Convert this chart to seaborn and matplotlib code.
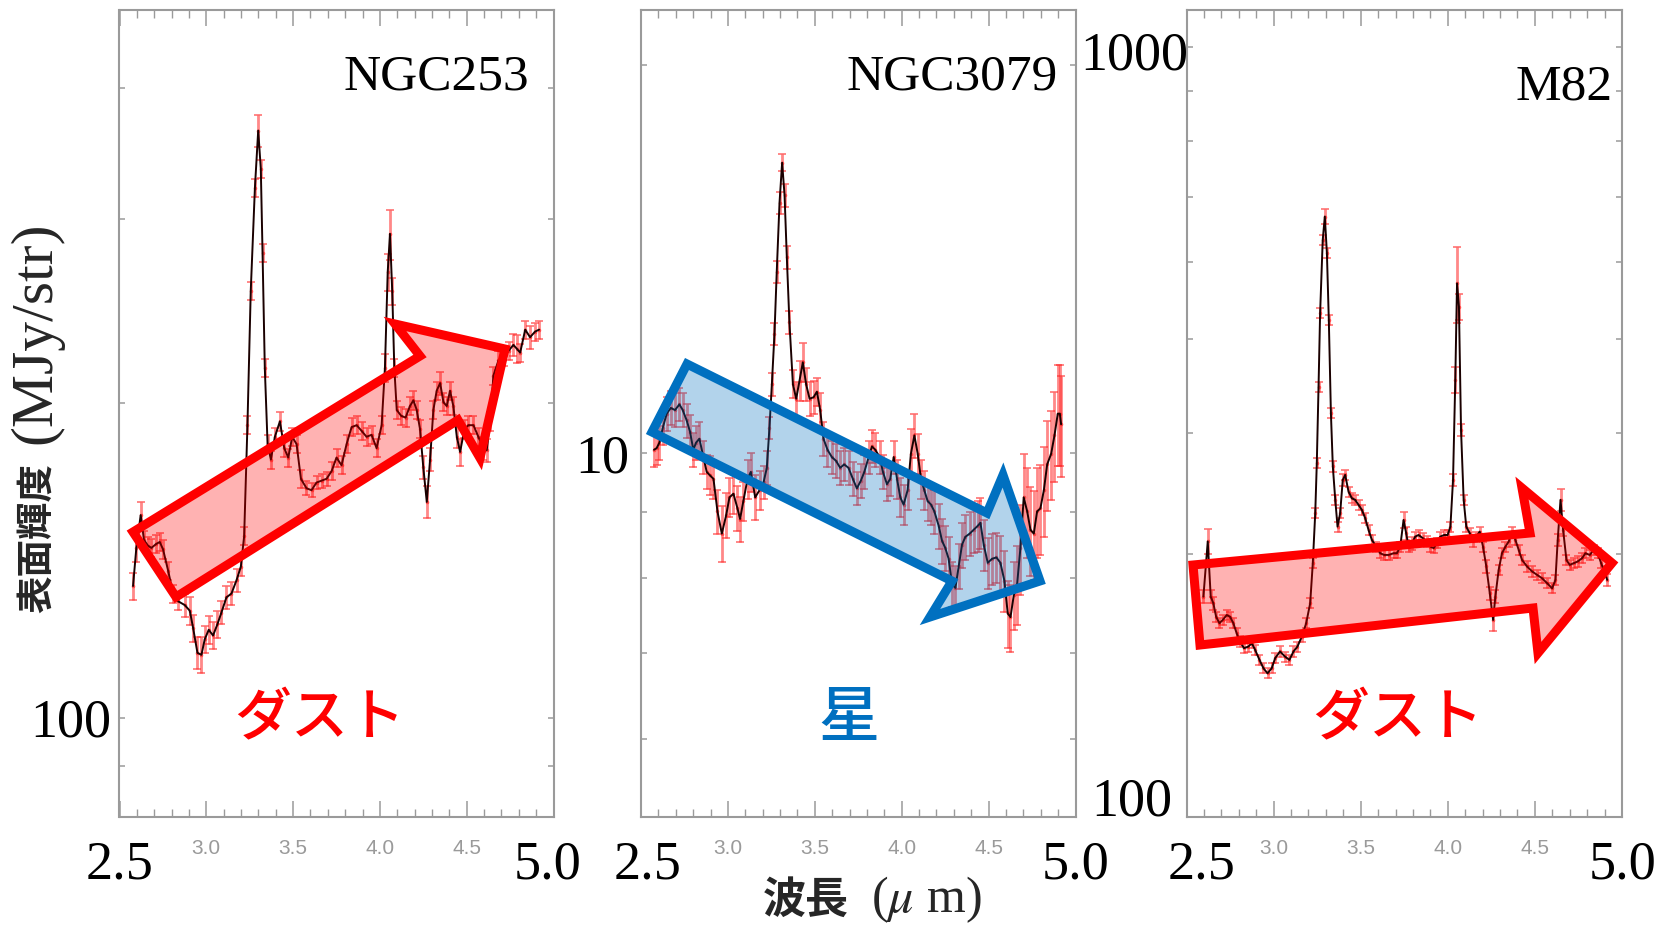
import matplotlib
matplotlib.use("Agg")
import matplotlib.pyplot as plt
import numpy as np
import seaborn as sns
from matplotlib.patches import Polygon
from matplotlib.ticker import FixedLocator, MultipleLocator, NullFormatter, NullLocator

# ---------------------------------------------------------------- data
# NGC253 surface brightness spectrum (MJy/str) and relative errors (%)
NGC253_WL = [2.578, 2.597, 2.622, 2.641, 2.664, 2.684, 2.712, 2.732, 2.751, 2.780,
             2.809, 2.837, 2.876, 2.905, 2.924, 2.949, 2.972, 2.991, 3.014, 3.039,
             3.064, 3.087, 3.116, 3.145, 3.174, 3.199, 3.218, 3.237, 3.256, 3.280,
             3.299, 3.314, 3.324, 3.337, 3.353, 3.372, 3.395, 3.424, 3.449, 3.472,
             3.495, 3.520, 3.545, 3.577, 3.606, 3.635, 3.664, 3.693, 3.722, 3.750,
             3.779, 3.808, 3.837, 3.866, 3.895, 3.923, 3.952, 3.981, 4.010, 4.029,
             4.045, 4.058, 4.071, 4.083, 4.097, 4.122, 4.148, 4.173, 4.193, 4.212,
             4.231, 4.250, 4.270, 4.289, 4.308, 4.327, 4.347, 4.366, 4.385, 4.404,
             4.423, 4.443, 4.462, 4.487, 4.510, 4.539, 4.567, 4.596, 4.615, 4.635,
             4.654, 4.683, 4.712, 4.741, 4.769, 4.789, 4.808, 4.837, 4.865, 4.894,
             4.917]
NGC253_FLUX = [133.7, 145.4, 156.3, 148.0, 146.1, 145.4, 146.7, 147.3, 144.9, 138.3,
               131.5, 129.3, 128.2, 126.6, 121.9, 115.4, 114.9, 118.9, 121.4, 119.9,
               122.9, 126.1, 130.4, 131.5, 135.4, 139.5, 149.2, 190.5, 255.9, 321.2,
               364.4, 335.0, 278.3, 216.1, 182.7, 176.6, 185.7, 192.1, 181.1, 177.4,
               185.7, 182.7, 169.3, 165.8, 165.1, 167.9, 168.6, 169.3, 172.2, 177.4,
               174.4, 182.7, 189.7, 190.5, 188.1, 185.7, 186.5, 181.1, 190.5, 216.1,
               266.9, 290.3, 255.9, 216.1, 197.0, 194.5, 193.7, 198.7, 201.2, 197.0,
               188.9, 173.6, 160.9, 176.6, 197.0, 205.5, 209.0, 200.4, 198.7, 205.5,
               198.7, 185.7, 179.6, 188.9, 190.5, 190.5, 185.7, 181.1, 180.3, 192.1,
               212.5, 219.7, 221.6, 224.4, 227.3, 225.4, 223.5, 235.1, 231.2, 234.1,
               235.1]
NGC253_ERR_PCT = [3, 3, 3, 2, 2, 2, 2, 2, 2, 2,
                  2, 2, 2.5, 3, 3, 3.5, 4, 3, 3, 3,
                  3, 2.5, 2.5, 2.5, 2.5, 2, 2, 2, 2, 2,
                  3.5, 2, 2, 2, 2, 2, 2, 2, 2, 2,
                  2, 2, 2, 1.5, 1.5, 1.5, 1.5, 1.5, 2, 2,
                  2, 2, 2, 2, 2, 2, 2, 2, 2, 3,
                  4, 5.5, 3, 2, 2, 2, 2, 2, 2, 2,
                  2, 2.5, 3.5, 2.5, 2, 2, 2.5, 2, 2, 2,
                  2, 2.5, 3, 2, 2, 2, 2, 2.5, 2.5, 2,
                  2, 2, 2, 2, 2.5, 3, 2, 2, 2.5, 2,
                  2]

# NGC3079
NGC3079_WL = [2.575, 2.590, 2.606, 2.625, 2.648, 2.671, 2.696, 2.721, 2.740, 2.763,
              2.782, 2.801, 2.817, 2.836, 2.859, 2.878, 2.897, 2.917, 2.940, 2.965,
              2.990, 3.009, 3.032, 3.055, 3.070, 3.089, 3.113, 3.132, 3.157, 3.182,
              3.205, 3.224, 3.239, 3.253, 3.268, 3.281, 3.297, 3.312, 3.326, 3.339,
              3.354, 3.374, 3.393, 3.412, 3.431, 3.450, 3.470, 3.493, 3.512, 3.531,
              3.550, 3.573, 3.598, 3.623, 3.646, 3.669, 3.694, 3.719, 3.742, 3.765,
              3.785, 3.810, 3.829, 3.848, 3.873, 3.892, 3.915, 3.934, 3.954, 3.973,
              3.992, 4.011, 4.034, 4.053, 4.073, 4.092, 4.111, 4.130, 4.149, 4.169,
              4.188, 4.213, 4.232, 4.251, 4.270, 4.290, 4.309, 4.328, 4.347, 4.366,
              4.391, 4.414, 4.437, 4.453, 4.472, 4.495, 4.520, 4.545, 4.568, 4.591,
              4.610, 4.626, 4.645, 4.664, 4.683, 4.702, 4.722, 4.741, 4.760, 4.779,
              4.798, 4.818, 4.837, 4.860, 4.879, 4.898, 4.910, 4.917]
NGC3079_FLUX = [10.06, 10.09, 10.19, 10.46, 10.73, 10.84, 10.80, 10.91, 10.80, 10.60,
                10.39, 10.06, 10.19, 10.26, 9.93, 9.67, 9.61, 9.55, 9.01, 8.66,
                8.95, 9.24, 9.30, 9.06, 8.89, 9.18, 9.55, 9.67, 9.24, 9.36,
                9.49, 9.74, 10.46, 11.31, 12.38, 13.82, 15.64, 16.80, 15.85, 14.19,
                12.63, 11.31, 11.02, 11.38, 11.76, 11.31, 11.02, 11.05, 11.16, 10.80,
                10.26, 10.06, 9.93, 9.86, 9.74, 9.80, 9.74, 9.55, 9.39, 9.52,
                9.67, 9.93, 10.12, 10.06, 9.93, 9.67, 9.46, 9.55, 9.93, 9.55,
                9.24, 9.12, 9.36, 9.99, 10.32, 9.99, 9.55, 9.36, 9.18, 9.12,
                9.01, 8.78, 8.55, 8.44, 8.28, 7.91, 7.86, 8.17, 8.49, 8.61,
                8.66, 8.72, 8.78, 8.83, 8.49, 8.22, 8.28, 8.30, 8.22, 7.96,
                7.51, 7.46, 7.76, 7.91, 8.44, 9.24, 9.01, 8.72, 8.66, 9.01,
                9.06, 9.36, 9.80, 9.99, 10.32, 10.73, 10.73, 10.53]
NGC3079_ERR_PCT = [3, 3, 3, 3, 3, 3, 3, 3, 3, 3,
                   3, 3, 3, 3, 3, 3, 3.5, 3.5, 4, 5,
                   4, 3.5, 3.5, 4, 4, 3.5, 3.5, 3.5, 4, 3.5,
                   3, 3, 2, 2, 2, 2, 2, 1.5, 2, 2,
                   2, 2.5, 3, 3.5, 3.5, 3, 3, 3, 2.5, 3,
                   3, 3, 3, 3, 3, 3, 3, 3, 3, 3,
                   3, 3, 3, 3, 3, 3, 3, 3, 3, 3.5,
                   3.5, 3.5, 3.5, 4.5, 4, 3.5, 3.5, 3.5, 3.5, 3.5,
                   4, 4, 4, 4, 4, 4, 4, 4, 4, 4,
                   4, 4, 4.5, 4.5, 4.5, 4.5, 4.5, 4.5, 5, 5.5,
                   6, 6, 6, 7, 8, 8, 8, 8, 8, 8,
                   8, 8, 8, 8, 8, 9, 9, 9]

# M82
M82_WL = [2.597, 2.622, 2.639, 2.654, 2.670, 2.689, 2.708, 2.731, 2.750, 2.769,
          2.788, 2.807, 2.830, 2.855, 2.875, 2.894, 2.919, 2.942, 2.965, 2.989,
          3.009, 3.037, 3.066, 3.091, 3.114, 3.137, 3.162, 3.187, 3.210, 3.225,
          3.239, 3.248, 3.258, 3.267, 3.282, 3.294, 3.306, 3.317, 3.329, 3.340,
          3.354, 3.367, 3.382, 3.397, 3.411, 3.430, 3.449, 3.468, 3.488, 3.507,
          3.526, 3.545, 3.564, 3.589, 3.612, 3.635, 3.660, 3.689, 3.708, 3.727,
          3.746, 3.761, 3.775, 3.794, 3.813, 3.832, 3.857, 3.880, 3.900, 3.919,
          3.938, 3.957, 3.980, 3.999, 4.015, 4.030, 4.043, 4.053, 4.064, 4.076,
          4.091, 4.106, 4.126, 4.145, 4.164, 4.183, 4.202, 4.221, 4.241, 4.260,
          4.273, 4.292, 4.311, 4.331, 4.350, 4.369, 4.388, 4.407, 4.426, 4.455,
          4.484, 4.512, 4.541, 4.570, 4.599, 4.618, 4.631, 4.647, 4.662, 4.681,
          4.700, 4.723, 4.746, 4.771, 4.790, 4.815, 4.838, 4.861, 4.880, 4.899,
          4.915]
M82_FLUX = [271.0, 308.9, 271.0, 266.8, 258.4, 254.4, 256.4, 259.4, 258.4, 254.4,
            248.4, 243.6, 239.8, 240.7, 242.6, 238.8, 233.2, 228.6, 225.9, 228.6,
            234.2, 237.9, 235.0, 233.2, 237.9, 240.7, 246.5, 254.4, 266.8, 293.4,
            330.3, 372.0, 446.2, 531.1, 631.9, 668.1, 612.4, 522.8, 418.7, 369.1,
            341.0, 320.0, 330.3, 357.5, 361.8, 347.8, 342.3, 341.0, 336.9, 332.9,
            326.4, 317.5, 310.1, 305.2, 300.4, 299.2, 299.2, 300.4, 300.4, 305.2,
            325.1, 315.0, 305.2, 307.6, 312.5, 313.7, 311.3, 308.9, 305.2, 304.1,
            307.6, 312.5, 313.7, 313.7, 320.0, 357.5, 453.4, 570.1, 539.4, 402.4,
            341.0, 320.0, 315.0, 308.9, 312.5, 316.2, 305.2, 291.1, 273.2, 256.4,
            271.0, 288.8, 300.4, 305.2, 308.9, 316.2, 310.1, 302.8, 295.7, 291.1,
            287.7, 285.4, 283.1, 279.8, 276.4, 282.0, 310.1, 341.0, 317.5, 295.7,
            292.2, 293.4, 294.6, 296.9, 300.4, 299.2, 302.8, 300.4, 293.4, 287.7,
            282.0]
M82_ERR_PCT = [1.5, 3, 1.5, 1.5, 1.2, 1.2, 1.2, 1.2, 1.2, 1.2,
               1.2, 1.2, 1.2, 1.2, 1.2, 1.2, 1.2, 1.2, 1.2, 1.2,
               1.2, 1.2, 1.2, 1.2, 1.2, 1.2, 1.2, 1.2, 1.2, 1.2,
               1.2, 1.2, 1.2, 1.2, 1.2, 1.8, 1.2, 1.2, 1.2, 1.2,
               1.2, 1.2, 1.2, 1.5, 1.2, 1.2, 1.2, 1.2, 1.2, 1.2,
               1.2, 1.2, 1.2, 1.2, 1.2, 1.2, 1.2, 1.2, 1.2, 1.2,
               2, 1.5, 1.2, 1.5, 1.2, 1.2, 1.2, 1.2, 1.2, 1.2,
               1.2, 1.2, 1.2, 1.2, 1.2, 1.5, 3, 9, 3, 1.5,
               1.2, 1.2, 1.2, 1.2, 1.2, 1.2, 1.2, 1.5, 1.5, 2.5,
               1.5, 1.2, 1.2, 1.2, 1.2, 1.2, 1.2, 1.2, 1.2, 1.2,
               1.2, 1.2, 1.2, 1.2, 1.2, 1.2, 1.5, 2.5, 1.5, 1.2,
               1.2, 1.2, 1.2, 1.2, 1.2, 1.2, 1.2, 1.2, 1.2, 1.2,
               1.5]

GALAXIES = ["NGC253", "NGC3079", "M82"]
X_MAJOR = [2.5, 3.0, 3.5, 4.0, 4.5, 5.0]
X_MAJOR_LABELS = ["", "3.0", "3.5", "4.0", "4.5", ""]
Y_TICKS = [[90, 100, 200, 300, 400],
           [6, 7, 8, 9, 10, 20],
           [300, 400, 500, 600, 700, 800, 900, 1000]]
Y_LIMITS = [(80.4, 475.2), (5.22, 22.07), (160.6, 1091.0)]

# ---------------------------------------------------------------- style
W, H, DPI = 1663, 930, 100
sns.set_theme(style="white")
plt.rcParams["font.family"] = ["Noto Sans CJK JP", "DejaVu Sans"]
plt.rcParams["mathtext.fontset"] = "stix"
SERIF = ["Liberation Serif", "DejaVu Serif"]
JP = ["Noto Sans CJK JP", "DejaVu Sans"]
FRAME = "#9a9a9a"
RED = "#ff0000"
BLUE = "#0070c0"


def fx(px):
    return px / W


def fy(py):
    return 1 - py / H


fig = plt.figure(figsize=(W / DPI, H / DPI), dpi=DPI)
fig.patch.set_facecolor("white")

# panel frames in pixels: left, top, right, bottom
frames = [(119.5, 10, 553.5, 817), (641, 10, 1075.5, 817), (1186.5, 10, 1622, 817)]
series = [(NGC253_WL, NGC253_FLUX, NGC253_ERR_PCT),
          (NGC3079_WL, NGC3079_FLUX, NGC3079_ERR_PCT),
          (M82_WL, M82_FLUX, M82_ERR_PCT)]

axes = []
for i, (l, t, r, b) in enumerate(frames):
    ax = fig.add_axes([fx(l), fy(b), (r - l) / W, (b - t) / H])
    axes.append(ax)
    wl, flux, pct = series[i]
    wl = np.asarray(wl)
    flux = np.asarray(flux)
    err = flux * np.asarray(pct) / 100.0

    ax.set_yscale("log")
    ax.set_xlim(2.5, 5.0)
    ax.set_ylim(*Y_LIMITS[i])

    ax.errorbar(wl, flux, yerr=err, fmt="o", ms=2.6, mfc=(1, 0.1, 0.1, 0.6),
                mec="none", ecolor=(1, 0.15, 0.15, 0.55), elinewidth=2.0,
                capsize=2.8, capthick=1.4, zorder=2)
    sns.lineplot(x=wl, y=flux, ax=ax, color="#1a0000", lw=1.4, sort=False,
                 errorbar=None, zorder=3)

    ax.xaxis.set_major_locator(FixedLocator(X_MAJOR))
    ax.xaxis.set_minor_locator(MultipleLocator(0.1))
    ax.set_xticklabels(X_MAJOR_LABELS)
    ax.yaxis.set_major_locator(FixedLocator(Y_TICKS[i]))
    ax.yaxis.set_minor_locator(NullLocator())
    ax.yaxis.set_major_formatter(NullFormatter())
    ax.yaxis.set_minor_formatter(NullFormatter())
    ax.tick_params(axis="x", which="major", direction="in", length=11.5, width=1.1,
                   color=FRAME, top=True, bottom=True, labelsize=15,
                   labelcolor="#9a9a9a", pad=16)
    ax.tick_params(axis="x", which="minor", direction="in", length=5.8, width=1.0,
                   color=FRAME, top=True, bottom=True)
    ax.tick_params(axis="y", which="major", direction="in", length=4.5, width=1.1,
                   color=FRAME, left=True, right=True)
    for lab in ax.get_xticklabels():
        lab.set_family(["Liberation Sans Narrow", "Liberation Sans", "DejaVu Sans"])
    for s in ax.spines.values():
        s.set_color(FRAME)
        s.set_linewidth(1.5)
    ax.set_xlabel("")
    ax.set_ylabel("")
    ax.grid(False)

# galaxy names
name_pos = [(0.943, 0.901), (0.959, 0.901), (0.978, 0.889)]
for ax, name, (x, y) in zip(axes, GALAXIES, name_pos):
    ax.text(x, y, name, transform=ax.transAxes, ha="right", va="baseline",
            fontsize=37, family=SERIF, color="black", zorder=6)

# large axis numbers at the ends of the wavelength range
big = dict(fontsize=39, family=SERIF, color="black", va="baseline", ha="center",
           annotation_clip=False, textcoords="offset pixels")
x_end_offsets = [(0.5, -5.5), (7, 0.5), (15.5, 1.0)]
for ax, (d0, d1) in zip(axes, x_end_offsets):
    tr = ax.get_xaxis_transform()
    ax.annotate("2.5", xy=(2.5, 0), xycoords=tr, xytext=(d0, -61), **big)
    ax.annotate("5.0", xy=(5.0, 0), xycoords=tr, xytext=(d1, -61), **big)

# intensity labels on the left of each panel
ylab = dict(fontsize=39, family=SERIF, color="black", va="baseline", ha="right",
            annotation_clip=False, textcoords="offset pixels")
axes[0].annotate("100", xy=(0, 100), xycoords=axes[0].get_yaxis_transform(),
                 xytext=(-8.5, -19), **ylab)
axes[1].annotate("10", xy=(0, 10), xycoords=axes[1].get_yaxis_transform(),
                 xytext=(-12, -19), **ylab)
axes[2].annotate("1000", xy=(0, 1000), xycoords=axes[2].get_yaxis_transform(),
                 xytext=(2, -23), **ylab)
axes[2].text(-0.033, 0.002, "100", transform=axes[2].transAxes, ha="right",
             va="baseline", fontsize=39, family=SERIF, color="black")

# block arrows (pixel outlines)
arrow_shapes = [
    ([(133, 532), (420, 356), (395, 324), (505, 349), (480, 458), (458, 420), (176, 597)],
     RED),
    ([(687, 364), (987, 513), (1003, 475), (1040, 581), (930, 617), (952, 581), (652, 432)],
     BLUE),
    ([(1193, 565), (1530, 533), (1522, 488), (1612, 563), (1538, 653), (1533, 608), (1200, 645)],
     RED),
]
for pts, col in arrow_shapes:
    rgb = matplotlib.colors.to_rgb(col)
    poly = Polygon([(fx(x), fy(y)) for x, y in pts], closed=True,
                   transform=fig.transFigure, facecolor=(*rgb, 0.3),
                   edgecolor=(*rgb, 1.0), linewidth=6.5, joinstyle="miter",
                   zorder=5)
    fig.add_artist(poly)

# component labels
fig.text(fx(320), fy(719), "ダスト", fontsize=41, weight="medium", color=RED,
         family=JP, ha="center", va="center")
fig.text(fx(849), fy(719), "星", fontsize=44, weight="medium", color=BLUE,
         family=JP, ha="center", va="center")
fig.text(fx(1398), fy(719), "ダスト", fontsize=41, weight="medium", color=RED,
         family=JP, ha="center", va="center")

# axis titles
fig.text(fx(37), fy(538), "表面輝度", rotation=90, fontsize=27, weight="bold",
         family=JP, ha="center", va="center")
fig.text(fx(36), fy(333), "(MJy/str)", rotation=90, fontsize=43,
         family=SERIF, ha="center", va="center")
fig.text(fx(806), fy(900), "波長", fontsize=31, weight="bold",
         family=JP, ha="center", va="center")
fig.text(fx(926), fy(900), r"($\mu$ m)", fontsize=36,
         family=SERIF, ha="center", va="center")

fig.savefig("out.png", dpi=DPI, facecolor="white")
